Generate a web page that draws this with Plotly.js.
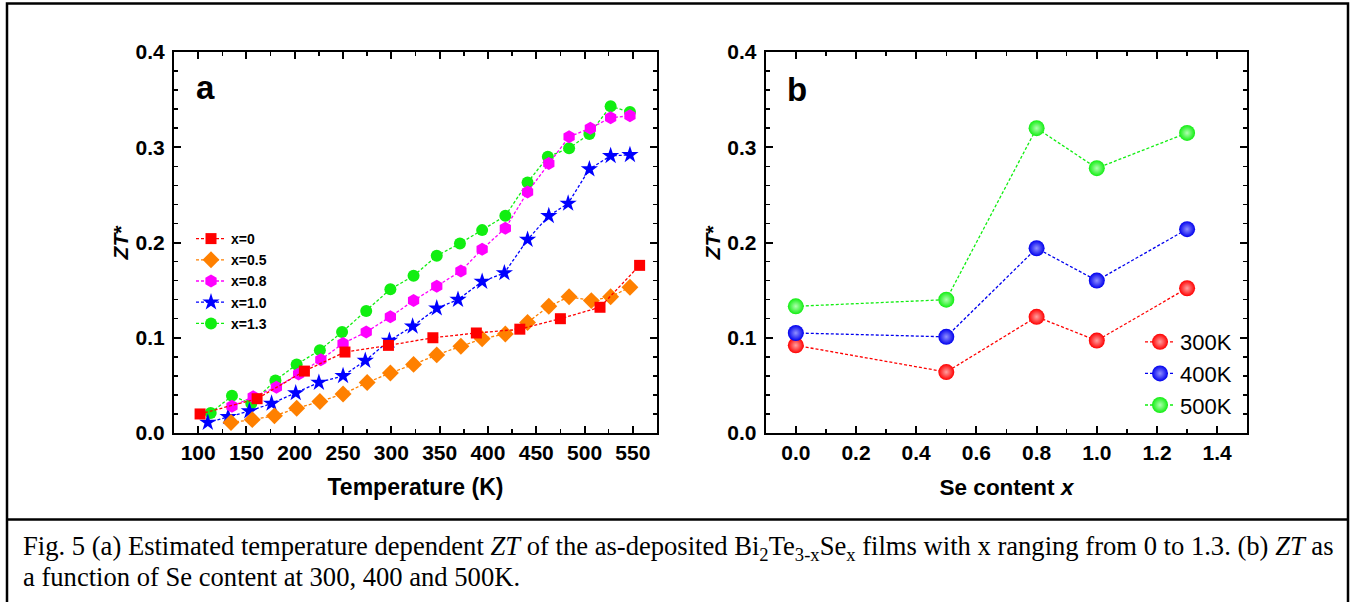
<!DOCTYPE html>
<html>
<head>
<meta charset="utf-8">
<script src="https://cdn.plot.ly/plotly-3.0.1.min.js"></script>
<style>html,body{margin:0;padding:0;background:#fff;}#chart{width:1352px;height:602px;}</style>
</head>
<body>
<div id="chart"></div>
<script>
// ---- Panel (a): ZT* vs temperature ----
const T_x0  = [102,161,210,252,297,343,388,433,475,516,557];
const ZT_x0 = [0.020,0.036,0.065,0.085,0.092,0.100,0.105,0.109,0.120,0.132,0.176];

const T_x05  = [134,156,179,202,226,250,275,299,323,347,372,394,418,441,463,484,507,527,547];
const ZT_x05 = [0.011,0.014,0.018,0.026,0.033,0.041,0.053,0.063,0.072,0.082,0.091,0.099,0.104,0.116,0.133,0.143,0.139,0.143,0.153];

const T_x08  = [135,157,181,204,227,250,274,299,323,347,372,394,418,441,463,484,506,527,547];
const ZT_x08 = [0.028,0.038,0.048,0.062,0.077,0.094,0.106,0.122,0.139,0.154,0.170,0.193,0.215,0.253,0.283,0.311,0.320,0.331,0.333];

const T_x10  = [110,131,153,176,201,225,250,273,298,322,347,369,394,417,441,463,483,505,527,547];
const ZT_x10 = [0.011,0.017,0.023,0.031,0.042,0.053,0.060,0.076,0.097,0.112,0.131,0.140,0.159,0.168,0.203,0.228,0.241,0.277,0.291,0.292];

const T_x13  = [113,135,155,180,202,226,249,274,299,323,347,371,394,418,441,462,484,505,527,547];
const ZT_x13 = [0.021,0.039,0.031,0.055,0.072,0.087,0.106,0.128,0.151,0.165,0.186,0.199,0.213,0.228,0.263,0.290,0.299,0.314,0.343,0.337];

// ---- Panel (b): ZT* vs Se content ----
const seContent = [0, 0.5, 0.8, 1.0, 1.3];
const zt300K = [0.092,0.064,0.122,0.097,0.152];
const zt400K = [0.105,0.101,0.194,0.160,0.214];
const zt500K = [0.133,0.140,0.320,0.278,0.315];

// ---- Tick labels ----
const tempTicks = [100,150,200,250,300,350,400,450,500,550];
const ztTicks = [0.0, 0.1, 0.2, 0.3, 0.4];
const ztTickLabels = ['0.0','0.1','0.2','0.3','0.4'];
const seTicks = [0.0, 0.2, 0.4, 0.6, 0.8, 1.0, 1.2, 1.4];
const seTickLabels = ['0.0','0.2','0.4','0.6','0.8','1.0','1.2','1.4'];

const FONT = "Liberation Sans, Arial, sans-serif";
const SERIF = "Liberation Serif, Times New Roman, serif";
const TICKPX = 21;
const big = s => '<b>' + s + '</b>';

function lineTrace(x, y, name, color, symbol, size) {
  return {
    x: x, y: y, name: name, type: 'scatter', mode: 'lines+markers',
    xaxis: 'x', yaxis: 'y', legend: 'legend',
    line: {color: color, width: 1.3, dash: '3px,2px'},
    marker: {color: color, symbol: symbol, size: size, line: {width: 0}}
  };
}
function ballTrace(x, y, name, color, light) {
  return {
    x: x, y: y, name: name, type: 'scatter', mode: 'lines+markers',
    xaxis: 'x2', yaxis: 'y2', legend: 'legend2',
    line: {color: color, width: 1.3, dash: '3px,2px'},
    marker: {color: color, size: 16, line: {width: 0}, gradient: {type: 'radial', color: light}}
  };
}

const traces = [
  lineTrace(T_x13, ZT_x13, 'x=1.3', '#11ee11', 'circle', 12),
  lineTrace(T_x10, ZT_x10, 'x=1.0', '#0000ff', 'star', 13),
  lineTrace(T_x08, ZT_x08, 'x=0.8', '#ff00ff', 'hexagon', 13),
  lineTrace(T_x05, ZT_x05, 'x=0.5', '#ff8000', 'diamond', 13),
  lineTrace(T_x0,  ZT_x0,  'x=0',   '#ff0000', 'square', 11),
  ballTrace(seContent, zt300K, '300K', '#ff0000', '#ffa0a0'),
  ballTrace(seContent, zt400K, '400K', '#0000ee', '#9090ff'),
  ballTrace(seContent, zt500K, '500K', '#11ee11', '#b0ffb0')
];

function axisBase(extra) {
  return Object.assign({
    showgrid: false, zeroline: false, showline: true, linecolor: '#000', linewidth: 2,
    mirror: 'ticks', ticks: 'inside', ticklen: 7, tickwidth: 2, tickcolor: '#000',
    tickfont: {family: FONT, size: TICKPX, color: '#000'}, fixedrange: true
  }, extra);
}
function yTitle() {
  return {text: '<b><i>ZT</i>*</b>', font: {family: FONT, size: 21}, standoff: 1};
}
function minorY() {
  return {ticks: 'inside', ticklen: 4, tickwidth: 1.5, tickcolor: '#000', dtick: 0.02};
}

const layout = {
  width: 1352, height: 602,
  margin: {l: 0, r: 0, t: 0, b: 0},
  paper_bgcolor: '#fff', plot_bgcolor: '#fff',
  font: {family: FONT, color: '#000', size: 19},
  xaxis: axisBase({
    domain: [174/1352, 657/1352], range: [75, 575],
    tickmode: 'array', tickvals: tempTicks, ticktext: tempTicks.map(v => big(String(v))),
    minor: {ticks: 'inside', ticklen: 4, tickwidth: 1.5, tickcolor: '#000', dtick: 25, tick0: 0},
    title: {text: '<b>Temperature (K)</b>', font: {family: FONT, size: 23}, standoff: 16},
    anchor: 'y'
  }),
  yaxis: axisBase({
    domain: [(602-433)/602, (602-52)/602], range: [0, 0.4],
    tickmode: 'array', tickvals: ztTicks, ticktext: ztTickLabels.map(big),
    ticklabelstandoff: 3,
    minor: minorY(), title: yTitle(), anchor: 'x'
  }),
  xaxis2: axisBase({
    domain: [765.7/1352, 1247.3/1352], range: [-0.1, 1.5],
    tickmode: 'array', tickvals: seTicks, ticktext: seTickLabels.map(big),
    minor: {ticks: 'inside', ticklen: 4, tickwidth: 1.5, tickcolor: '#000', dtick: 0.1, tick0: 0},
    title: {text: '<b>Se content <i>x</i></b>', font: {family: FONT, size: 22.5}, standoff: 16},
    anchor: 'y2'
  }),
  yaxis2: axisBase({
    domain: [(602-433)/602, (602-52)/602], range: [0, 0.4],
    tickmode: 'array', tickvals: ztTicks, ticktext: ztTickLabels.map(big),
    ticklabelstandoff: 3,
    minor: minorY(), title: yTitle(), anchor: 'x2'
  }),
  legend: {
    x: 191/1352, y: (602-223)/602, xanchor: 'left', yanchor: 'top',
    traceorder: 'reversed', bgcolor: 'rgba(0,0,0,0)', borderwidth: 0,
    font: {family: FONT, size: 14, weight: 700, color: '#000'},
    itemwidth: 30, tracegroupgap: 0
  },
  legend2: {
    x: 1140/1352, y: (602-321)/602, xanchor: 'left', yanchor: 'top',
    traceorder: 'normal', bgcolor: 'rgba(0,0,0,0)', borderwidth: 0,
    font: {family: FONT, size: 22, color: '#000'},
    itemwidth: 30, tracegroupgap: 0
  },
  annotations: [
    {text: '<b>a</b>', xref: 'paper', yref: 'paper', x: 205/1352, y: (602-88)/602,
     xanchor: 'center', yanchor: 'middle', showarrow: false, font: {family: FONT, size: 33, color: '#000'}},
    {text: '<b>b</b>', xref: 'paper', yref: 'paper', x: 797/1352, y: (602-90)/602,
     xanchor: 'center', yanchor: 'middle', showarrow: false, font: {family: FONT, size: 33, color: '#000'}},
    {text: 'Fig. 5 (a) Estimated temperature dependent <i>ZT</i> of the as-deposited Bi<sub>2</sub>Te<sub>3-x</sub>Se<sub>x</sub> films with x ranging from 0 to 1.3. (b) <i>ZT</i> as',
     xref: 'paper', yref: 'paper', x: 21/1352, y: (602-548)/602, xanchor: 'left', yanchor: 'middle',
     showarrow: false, font: {family: SERIF, size: 26.6, color: '#000'}},
    {text: 'a function of Se content at 300, 400 and 500K.',
     xref: 'paper', yref: 'paper', x: 21/1352, y: (602-577)/602, xanchor: 'left', yanchor: 'middle',
     showarrow: false, font: {family: SERIF, size: 26.6, color: '#000'}}
  ],
  shapes: [
    {type: 'rect', xref: 'paper', yref: 'paper', x0: 7/1352, x1: 1348/1352, y0: -0.05, y1: (602-3.5)/602,
     line: {color: '#000', width: 2.5}, fillcolor: 'rgba(0,0,0,0)'},
    {type: 'line', xref: 'paper', yref: 'paper', x0: 7/1352, x1: 1348/1352, y0: (602-519.5)/602, y1: (602-519.5)/602,
     line: {color: '#000', width: 2.5}}
  ]
};

Plotly.newPlot('chart', traces, layout, {displayModeBar: false, staticPlot: true});
</script>
</body>
</html>
